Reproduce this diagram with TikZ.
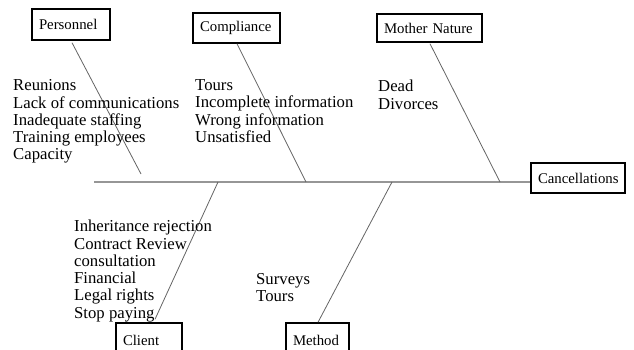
\documentclass[tikz,border=0pt]{standalone}
\usepackage{fontspec}
\setmainfont{Liberation Serif}
\usetikzlibrary{calc}
\begin{document}
\begin{tikzpicture}[x=1pt,y=-1pt,
  catbox/.style={draw=black,line width=1.4pt,rectangle,inner xsep=7pt,inner ysep=0pt,
    minimum height=30pt,align=left,font=\fontsize{14.8}{16}\selectfont},
  items/.style={anchor=north west,inner sep=0pt,align=left,
    font=\fontsize{16.7}{17.3}\selectfont},
  bone/.style={draw={rgb,255:red,100;green,100;blue,100},line width=0.8pt},
  spine/.style={draw={rgb,255:red,150;green,150;blue,150},line width=1.3pt}]
\useasboundingbox (0,0) rectangle (634,349);
\clip (0,0) rectangle (634,349);
% boxes
\node[catbox,text width=64pt,minimum height=31pt] (pers) at (71,24.5) {Personnel};
\node[catbox,text width=73pt] (comp) at (236.5,28) {Compliance};
\node[catbox,text width=91pt,minimum height=28pt] (moth) at (429.5,28) {Mother Nature};
\node[catbox,text width=80pt] (canc) at (578,178) {Cancellations};
\node[catbox,text width=52pt,minimum height=34pt] (cli) at (149,340) {Client};
\node[catbox,text width=49pt,minimum height=34pt] (meth) at (317.5,340) {Method};
% spine
\coordinate (tail) at (94,182);
\draw[spine] (tail) -- (tail -| canc.west);
% junctions
\coordinate (jp) at (141,174);
\coordinate (jc) at (306,182);
\coordinate (jm) at (500,182);
\coordinate (jcl) at (218,182);
\coordinate (jme) at (392,182);
\draw[bone] ($(pers.south)+(1,2)$) -- (jp);
\draw[bone] ($(comp.south)+(0.5,0)$) -- (jc);
\draw[bone] ($(moth.south)+(0.5,1)$) -- (jm);
\draw[bone] (jcl) -- ($(cli.north)+(6,-3)$);
\draw[bone] (jme) -- ($(meth.north)+(0.5,0)$);
% item lists
\node[items] (lp) at (13,79.5) {Reunions\\Lack of communications\\Inadequate staffing\\Training employees\\Capacity};
\node[items] (lc) at (195,79.5) {Tours\\Incomplete information\\Wrong information\\Unsatisfied};
\node[items] (lm) at (378,80) {Dead\\Divorces};
\node[items] (lcl) at (74,220) {Inheritance rejection\\Contract Review\\consultation\\Financial\\Legal rights\\Stop paying};
\node[items] (lme) at (256,273) {Surveys\\Tours};
\end{tikzpicture}
\end{document}
